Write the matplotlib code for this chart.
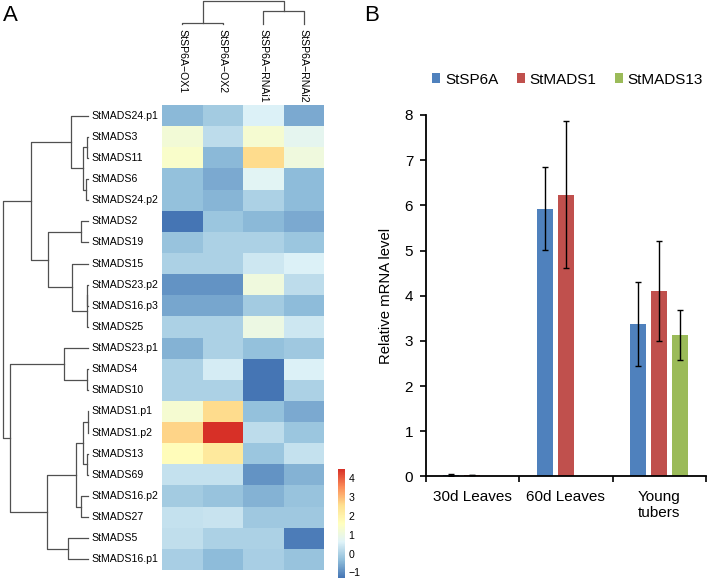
import numpy as np
import matplotlib
matplotlib.use("Agg")
import matplotlib.pyplot as plt
from matplotlib.colors import LinearSegmentedColormap
from matplotlib.patches import Patch

plt.rcParams['font.family'] = ['Liberation Sans', 'DejaVu Sans']

# ---------------- panel A data ----------------
genes = ["StMADS24.p1", "StMADS3", "StMADS11", "StMADS6", "StMADS24.p2", "StMADS2",
         "StMADS19", "StMADS15", "StMADS23.p2", "StMADS16.p3", "StMADS25", "StMADS23.p1",
         "StMADS4", "StMADS10", "StMADS1.p1", "StMADS1.p2", "StMADS13", "StMADS69",
         "StMADS16.p2", "StMADS27", "StMADS5", "StMADS16.p1"]
samples = ["StSP6A\u2212OX1", "StSP6A\u2212OX2", "StSP6A\u2212RNAi1", "StSP6A\u2212RNAi2"]

ox1 = [-0.4, 1.2, 1.4, -0.3, -0.3, -1.3, -0.25, 0.0, -0.9, -0.65, 0.0,
       -0.5, 0.0, 0.0, 1.3, 2.7, 1.7, 0.3, -0.1, 0.3, 0.25, -0.05]
ox2 = [-0.1, 0.2, -0.4, -0.6, -0.45, -0.2, 0.0, 0.0, -0.9, -0.65, 0.0,
       0.0, 0.5, 0.0, 2.6, 4.5, 2.3, 0.3, -0.25, 0.35, 0.0, -0.35]
rnai1 = [0.6, 1.3, 2.6, 0.7, 0.0, -0.4, 0.0, 0.4, 1.1, -0.1, 1.0,
         -0.3, -1.3, -1.3, -0.3, 0.2, -0.2, -0.9, -0.5, -0.15, 0.0, -0.05]
rnai2 = [-0.6, 0.8, 1.1, -0.35, -0.35, -0.6, -0.2, 0.6, 0.2, -0.35, 0.4,
         -0.15, 0.6, 0.0, -0.6, -0.2, 0.3, -0.5, -0.25, -0.15, -1.2, -0.25]

# linkage (left, right, height); clusters numbered after leaves
row_links = [(1, 2, 0.7), (3, 4, 2.0), (22, 23, 5.3), (0, 24, 17.3),
             (5, 6, 7.3), (8, 9, 0.7), (27, 10, 1.3), (7, 28, 16.3),
             (26, 29, 39.7), (25, 30, 57.3), (12, 13, 0.7), (11, 32, 24.0),
             (14, 15, 0.5), (16, 17, 0.7), (34, 35, 4.7), (18, 19, 7.3),
             (36, 37, 12.0), (20, 21, 19.7), (38, 39, 41.3), (33, 40, 78.0),
             (31, 41, 85.3)]
col_links = [(0, 1, 1.3), (2, 3, 13.0), (4, 5, 23.3)]

# ---------------- panel B data ----------------
tissues = ["30d Leaves", "60d Leaves", "Young\ntubers"]
sp6a = [0.03, 5.93, 3.37]
sp6a_err = [0.03, 0.92, 0.93]
mads1 = [0.03, 6.24, 4.10]
mads1_err = [0.01, 1.62, 1.11]
mads13 = [np.nan, np.nan, 3.13]
mads13_err = [np.nan, np.nan, 0.56]
series_names = ["StSP6A", "StMADS1", "StMADS13"]
series_colors = ["#4F81BD", "#C0504D", "#9BBB59"]

W, H = 709, 581
fig = plt.figure(figsize=(W / 100, H / 100), dpi=100)


def px_axes(x0, y0, x1, y1):
    return fig.add_axes([x0 / W, 1 - y1 / H, (x1 - x0) / W, (y1 - y0) / H])


def draw_dendro(ax, links, n, vertical, color="#505050"):
    pos = {i: i + 0.5 for i in range(n)}
    hgt = {i: 0.0 for i in range(n)}
    for k, (a, b, h) in enumerate(links):
        hs = [hgt[a], h, h, hgt[b]]
        ps = [pos[a], pos[a], pos[b], pos[b]]
        if vertical:
            ax.plot(ps, hs, color=color, lw=0.9, clip_on=False)
        else:
            ax.plot(hs, ps, color=color, lw=0.9, clip_on=False)
        pos[n + k] = (pos[a] + pos[b]) / 2
        hgt[n + k] = h
    ax.axis("off")


# heatmap
cmap = LinearSegmentedColormap.from_list(
    "pheat", ["#4575B4", "#91BFDB", "#E0F3F8", "#FFFFBF", "#FEE090", "#FC8D59", "#D73027"])
mat = np.array([ox1, ox2, rnai1, rnai2]).T
axh = px_axes(162, 105, 324, 570)
mesh = axh.pcolormesh(np.arange(5), np.arange(23), mat, cmap=cmap, vmin=-1.3, vmax=4.5)
axh.set_xlim(0, 4)
axh.set_ylim(22, 0)
axh.axis("off")
for j, s in enumerate(samples):
    axh.text(j + 0.5, -3.6, s, rotation=270, ha="center", va="top", fontsize=7.6, clip_on=False)

# row dendrogram + labels
axr = px_axes(0, 105, 88, 570)
draw_dendro(axr, row_links, len(genes), vertical=False)
axr.set_xlim(88, 0)
axr.set_ylim(22, 0)
for i, g in enumerate(genes):
    axr.text(-3, i + 0.5, g, ha="left", va="center", fontsize=7.6, clip_on=False)

# column dendrogram
axc = px_axes(162, 0, 324, 24)
draw_dendro(axc, col_links, len(samples), vertical=True)
axc.set_xlim(0, 4)
axc.set_ylim(0, 24)

# colorbar
axcb = px_axes(338, 469, 345, 578)
cb = fig.colorbar(mesh, cax=axcb, ticks=[-1, 0, 1, 2, 3, 4])
cb.outline.set_visible(False)
axcb.tick_params(length=0, pad=2.5, labelsize=7.6)

fig.text(3 / W, 1 - 21 / H, "A", fontsize=16, va="baseline")
fig.text(364 / W, 1 - 21 / H, "B", fontsize=16, va="baseline")

# ---------------- panel B ----------------
axb = px_axes(425.7, 115, 706, 476.4)
x = np.arange(len(tissues)) + 0.5
offs = [-0.225, 0.0, 0.225]
vals = [sp6a, mads1, mads13]
errs = [sp6a_err, mads1_err, mads13_err]
for v, e, o, c in zip(vals, errs, offs, series_colors):
    axb.bar(x + o, v, width=0.17, color=c, edgecolor="none")
    axb.errorbar(x + o, v, yerr=e, fmt="none", ecolor="black", elinewidth=1, capsize=2.5, capthick=1)

axb.set_xlim(0, 3)
axb.set_ylim(0, 8)
axb.set_yticks(range(9))
axb.set_xticks([0, 1, 2, 3])
axb.set_xticklabels([])
axb.set_xticks(x, minor=True)
axb.set_xticklabels(tissues, minor=True, fontsize=11, linespacing=1.15)
axb.tick_params(axis="x", which="minor", length=0, pad=10)
axb.tick_params(axis="x", which="major", length=4, width=1.2, direction="out")
axb.tick_params(axis="y", length=4, width=1.2, direction="out", pad=5, labelsize=11)
for sp in ["top", "right"]:
    axb.spines[sp].set_visible(False)
for sp in ["left", "bottom"]:
    axb.spines[sp].set_linewidth(1.3)
axb.set_ylabel("Relative mRNA level", fontsize=10.7)
axb.yaxis.set_label_coords(-0.117, 0.5)

handles = [Patch(facecolor=c, edgecolor="none") for c in series_colors]
fig.legend(handles, series_names, loc="center", bbox_to_anchor=(567.5 / W, 1 - 79.5 / H),
           ncol=3, frameon=False, fontsize=11, handlelength=0.55, handleheight=0.55,
           handletextpad=0.3, columnspacing=1.2, borderpad=0)

fig.savefig("out.png", dpi=100)
